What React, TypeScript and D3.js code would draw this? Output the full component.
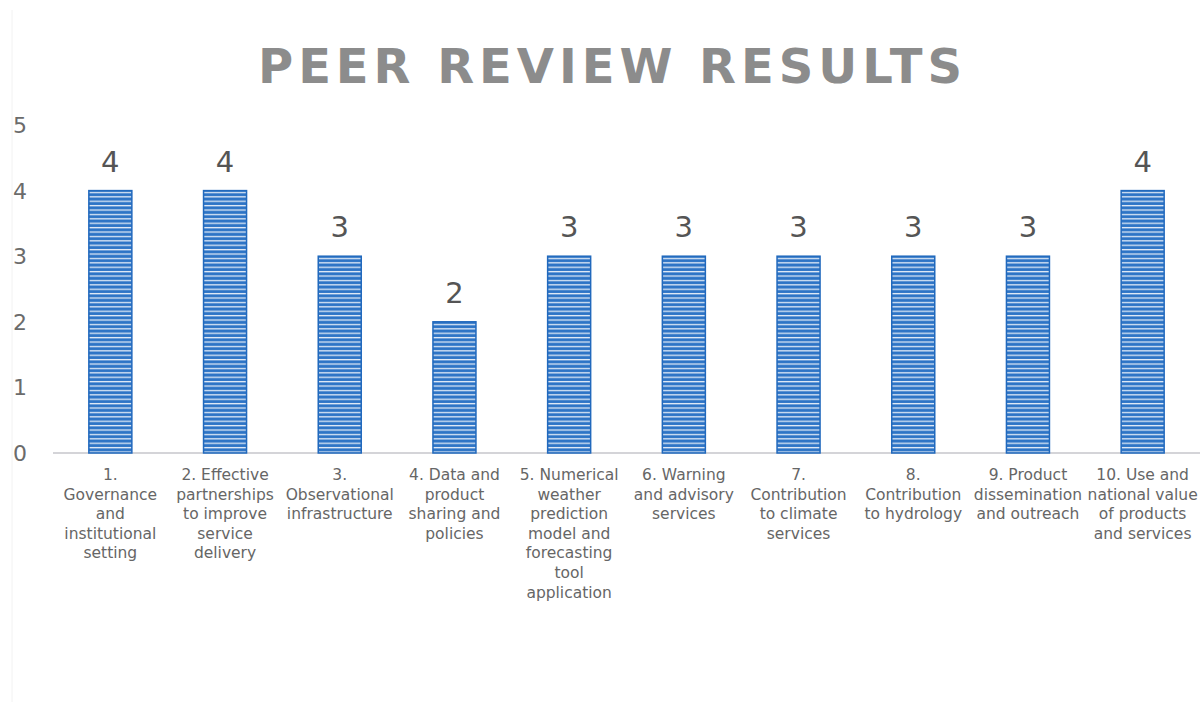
import React from "react";
import * as d3 from "d3";

const categories: string[][] = [
  ["1.", "Governance", "and", "institutional", "setting"],
  ["2. Effective", "partnerships", "to improve", "service", "delivery"],
  ["3.", "Observational", "infrastructure"],
  ["4. Data and", "product", "sharing and", "policies"],
  ["5. Numerical", "weather", "prediction", "model and", "forecasting", "tool", "application"],
  ["6. Warning", "and advisory", "services"],
  ["7.", "Contribution", "to climate", "services"],
  ["8.", "Contribution", "to hydrology"],
  ["9. Product", "dissemination", "and outreach"],
  ["10. Use and", "national value", "of products", "and services"],
];
const values: number[] = [4, 4, 3, 2, 3, 3, 3, 3, 3, 4];
const yTicks: number[] = [0, 1, 2, 3, 4, 5];
const title = "PEER REVIEW RESULTS";

const W = 1203;
const H = 702;
const FONT = "'DejaVu Sans', Verdana, sans-serif";

export default function App() {
  const x = d3
    .scaleBand<number>()
    .domain(d3.range(values.length))
    .range([53, 1200])
    .paddingInner(0.625)
    .paddingOuter(0.3125);
  const y = d3.scaleLinear().domain([0, 5]).range([453, 125]);

  return (
    <svg
      width={W}
      height={H}
      style={{ position: "absolute", left: 0, top: 0, background: "#fff" }}
    >
      <defs>
        <pattern id="stripes" patternUnits="userSpaceOnUse" width="8" height="4.4">
          <rect width="8" height="4.4" fill="#2d74c6" />
          <rect y="2.6" width="8" height="1.3" fill="#dfe9f6" />
        </pattern>
      </defs>
      <line x1={12} x2={12} y1={10} y2={H} stroke="#f2f2f2" strokeWidth={1} />
      <text
        x={610}
        y={83}
        textAnchor="middle"
        fontFamily={FONT}
        fontWeight="bold"
        fontSize={48}
        fill="#8c8c8c"
        textLength={704}
        lengthAdjust="spacing"
      >
        {title}
      </text>
      {yTicks.map((t) => (
        <text
          key={t}
          x={20}
          y={y(t)}
          dy="0.36em"
          textAnchor="middle"
          fontFamily={FONT}
          fontSize={22}
          fill="#6b6b6b"
        >
          {t}
        </text>
      ))}
      <line x1={53} x2={1200} y1={y(0)} y2={y(0)} stroke="#d4d4d8" strokeWidth={2} />
      {values.map((v, i) => {
        const bx = x(i)!;
        const bw = x.bandwidth();
        return (
          <g key={i}>
            <rect
              x={bx}
              y={y(v)}
              width={bw}
              height={y(0) - y(v)}
              fill="url(#stripes)"
              stroke="#2169bd"
              strokeWidth={1.5}
            />
            <text
              x={bx + bw / 2}
              y={y(v) - 19}
              textAnchor="middle"
              fontFamily={FONT}
              fontSize={29}
              fill="#555"
            >
              {v}
            </text>
            {categories[i].map((line, j) => (
              <text
                key={j}
                x={bx + bw / 2}
                y={480 + j * 19.6}
                textAnchor="middle"
                fontFamily={FONT}
                fontSize={15.5}
                fill="#666"
              >
                {line}
              </text>
            ))}
          </g>
        );
      })}
    </svg>
  );
}
